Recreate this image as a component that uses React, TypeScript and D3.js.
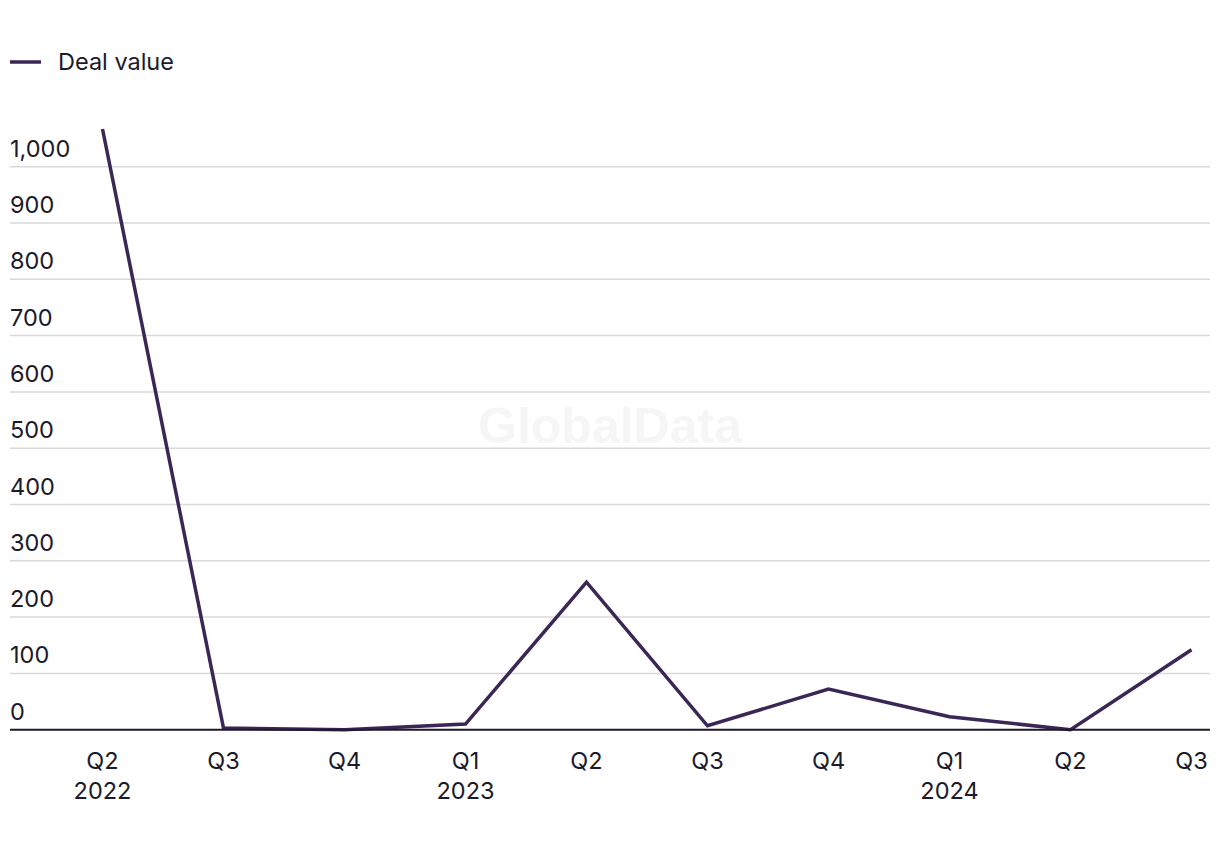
import React from "react";
import * as d3 from "d3";

const quarters = ["Q2", "Q3", "Q4", "Q1", "Q2", "Q3", "Q4", "Q1", "Q2", "Q3"];
const years = ["2022", "", "", "2023", "", "", "", "2024", "", ""];
const dealValues = [1067, 3, 0, 10, 262, 7, 72, 23, 0, 142];
const yTicks = [0, 100, 200, 300, 400, 500, 600, 700, 800, 900, 1000];

const W = 1220;
const H = 850;
const LINE = "#3a2756";
const TEXT = "#1c1a2b";
const FONT = "Inter, 'Noto Sans', sans-serif";
const FS = 23.5;

export default function App() {
  const idx = quarters.map((_, i) => i);
  const x = d3.scalePoint<number>().domain(idx).range([102.5, 1191.5]);
  const y = d3.scaleLinear().domain([0, 1000]).range([729.7, 166.7]);
  const line = d3
    .line<number>()
    .x((_, i) => x(i) as number)
    .y((d) => y(d));

  return (
    <svg
      width={W}
      height={H}
      style={{ position: "absolute", left: 0, top: 0, background: "#fff" }}
      fontFamily={FONT}
    >
      {/* legend */}
      <line x1={10} x2={41} y1={62} y2={62} stroke={LINE} strokeWidth={3.5} />
      <text x={58} y={70} fontSize={FS} fill={TEXT}>
        Deal value
      </text>

      {/* watermark */}
      <text
        x={610}
        y={443}
        textAnchor="middle"
        fontSize={50}
        fontWeight={700}
        fill="#f6f6f6"
        fontFamily="'Liberation Sans', Arial, sans-serif"
      >
        GlobalData
      </text>

      {/* grid + y labels */}
      {yTicks.map((t) => (
        <g key={t}>
          {t !== 0 && (
            <line x1={10} x2={1210} y1={y(t)} y2={y(t)} stroke="#d9d9d9" strokeWidth={1.5} />
          )}
          <text x={10} y={y(t) - 10} fontSize={FS} fill={TEXT}>
            {d3.format(",")(t)}
          </text>
        </g>
      ))}

      {/* series */}
      <path
        d={line(dealValues) || ""}
        fill="none"
        stroke={LINE}
        strokeWidth={3.5}
        strokeLinejoin="miter"
      />

      {/* zero line */}
      <line x1={10} x2={1210} y1={y(0)} y2={y(0)} stroke={TEXT} strokeWidth={2} />

      {/* x labels */}
      {idx.map((i) => (
        <g key={i}>
          <text x={x(i)} y={769} textAnchor="middle" fontSize={FS} fill={TEXT}>
            {quarters[i]}
          </text>
          {years[i] && (
            <text x={x(i)} y={799} textAnchor="middle" fontSize={FS} fill={TEXT}>
              {years[i]}
            </text>
          )}
        </g>
      ))}
    </svg>
  );
}
